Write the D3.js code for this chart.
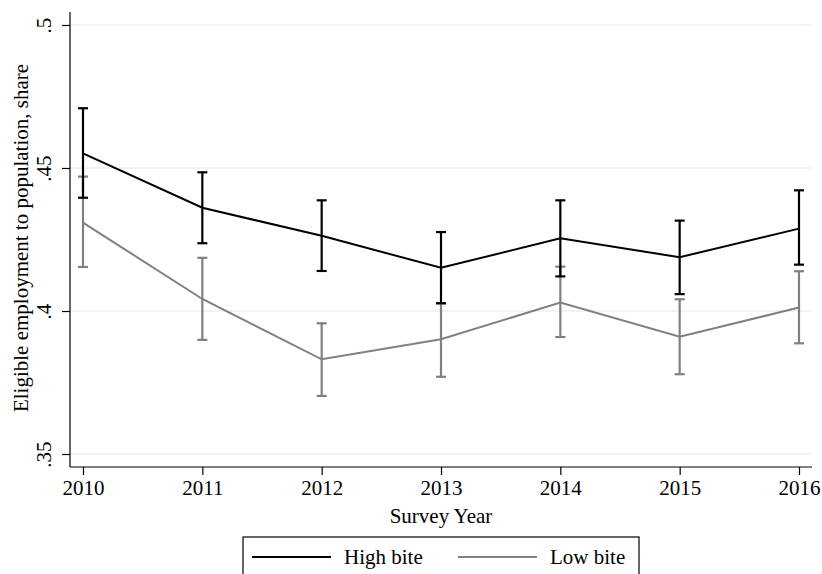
<!DOCTYPE html>
<html>
<head>
<meta charset="utf-8">
<script src="https://cdn.jsdelivr.net/npm/d3@7"></script>
<style>
  body { margin: 0; background: #fff; }
  svg { font-family: "Liberation Serif", "Times New Roman", serif; }
</style>
</head>
<body>
<script>
// values
let years = [2010, 2011, 2012, 2013, 2014, 2015, 2016];
let highBite = [0.4551, 0.4361, 0.4263, 0.4151, 0.4254, 0.4188, 0.4288];
let highLo   = [0.4396, 0.4237, 0.4140, 0.4027, 0.4121, 0.4059, 0.4162];
let highHi   = [0.4709, 0.4485, 0.4387, 0.4276, 0.4387, 0.4316, 0.4422];
let lowBite  = [0.4309, 0.4042, 0.3831, 0.3901, 0.4030, 0.3910, 0.4012];
let lowLo    = [0.4154, 0.3899, 0.3703, 0.3770, 0.3909, 0.3779, 0.3887];
let lowHi    = [0.4470, 0.4186, 0.3957, 0.4027, 0.4155, 0.4041, 0.4139];
let yTicks = [0.35, 0.4, 0.45, 0.5];
let yTickLabels = [".35", ".4", ".45", ".5"];

let w = 822;
let h = 574;

let svg = d3.select("body")
    .append("svg")
    .attr("width", w)
    .attr("height", h);

let xScale = d3.scaleLinear()
    .domain([2010, 2016])
    .range([83, 799]);

let yScale = d3.scaleLinear()
    .domain([0.35, 0.5])
    .range([454, 25]);

let plotL = 70, plotR = 812, plotT = 12, plotB = 467;

// gridlines
svg.selectAll("line.grid")
    .data(yTicks)
    .enter()
    .append("line")
    .attr("class", "grid")
    .attr("x1", plotL)
    .attr("x2", plotR)
    .attr("y1", d => yScale(d))
    .attr("y2", d => yScale(d))
    .attr("stroke", "#eaf2f3")
    .attr("stroke-width", 1.5);

// y axis
let yAxis = d3.axisLeft(yScale)
    .tickValues(yTicks)
    .tickFormat((d, i) => yTickLabels[i])
    .tickSize(8)
    .tickSizeOuter(0);

let gy = svg.append("g")
    .attr("transform", `translate(${plotL},0)`)
    .call(yAxis);
gy.select(".domain").remove();
gy.selectAll(".tick line").attr("stroke", "#000").attr("stroke-width", 1.2);
gy.selectAll(".tick text")
    .attr("x", null).attr("dy", null)
    .attr("transform", "translate(-19,0) rotate(-90)")
    .attr("text-anchor", "middle")
    .attr("font-size", 21)
    .attr("font-family", "Liberation Serif")
    .attr("fill", "#000");

// x axis
let xAxis = d3.axisBottom(xScale)
    .tickValues(years)
    .tickFormat(d3.format("d"))
    .tickSize(8)
    .tickSizeOuter(0);

let gx = svg.append("g")
    .attr("transform", `translate(0,${plotB})`)
    .call(xAxis);
gx.select(".domain").remove();
gx.selectAll(".tick line").attr("stroke", "#000").attr("stroke-width", 1.2);
gx.selectAll(".tick text")
    .attr("y", 28).attr("dy", null)
    .attr("font-size", 21)
    .attr("font-family", "Liberation Serif")
    .attr("fill", "#000");

// axis lines
svg.append("line")
    .attr("x1", plotL).attr("x2", plotL)
    .attr("y1", plotT).attr("y2", plotB)
    .attr("stroke", "#000").attr("stroke-width", 1.2);
svg.append("line")
    .attr("x1", plotL).attr("x2", plotR)
    .attr("y1", plotB).attr("y2", plotB)
    .attr("stroke", "#000").attr("stroke-width", 1.2);

// axis titles
svg.append("text")
    .attr("transform", `translate(28,238) rotate(-90)`)
    .attr("text-anchor", "middle")
    .attr("font-size", 21)
    .text("Eligible employment to population, share");

svg.append("text")
    .attr("x", (xScale(2010) + xScale(2016)) / 2)
    .attr("y", 523)
    .attr("text-anchor", "middle")
    .attr("font-size", 21)
    .text("Survey Year");

let series = [
    { name: "High bite", mid: highBite, lo: highLo, hi: highHi, color: "#000", lw: 2 },
    { name: "Low bite", mid: lowBite, lo: lowLo, hi: lowHi, color: "#808080", lw: 2 }
];

let line = d3.line()
    .x((d, i) => xScale(years[i]))
    .y(d => yScale(d));

// draw low first so high sits on top
series.slice().reverse().forEach(s => {
    svg.append("path")
        .datum(s.mid)
        .attr("d", line)
        .attr("fill", "none")
        .attr("stroke", s.color)
        .attr("stroke-width", s.lw);

    let bars = svg.append("g");
    years.forEach((yr, i) => {
        let x = xScale(yr);
        bars.append("line")
            .attr("x1", x).attr("x2", x)
            .attr("y1", yScale(s.lo[i])).attr("y2", yScale(s.hi[i]))
            .attr("stroke", s.color).attr("stroke-width", 2.2);
        [s.lo[i], s.hi[i]].forEach(v => {
            bars.append("line")
                .attr("x1", x - 5).attr("x2", x + 5)
                .attr("y1", yScale(v)).attr("y2", yScale(v))
                .attr("stroke", s.color).attr("stroke-width", 2.2);
        });
    });
});

// legend
let legend = svg.append("g");
legend.append("rect")
    .attr("x", 243).attr("y", 537)
    .attr("width", 396).attr("height", 60)
    .attr("fill", "#fff")
    .attr("stroke", "#000")
    .attr("stroke-width", 1.2);

let legendX = [252, 458];
series.forEach((s, i) => {
    legend.append("line")
        .attr("x1", legendX[i]).attr("x2", legendX[i] + 79)
        .attr("y1", 557).attr("y2", 557)
        .attr("stroke", s.color).attr("stroke-width", 2);
    legend.append("text")
        .attr("x", legendX[i] + 92)
        .attr("y", 564)
        .attr("font-size", 21)
        .text(s.name);
});
</script>
</body>
</html>
